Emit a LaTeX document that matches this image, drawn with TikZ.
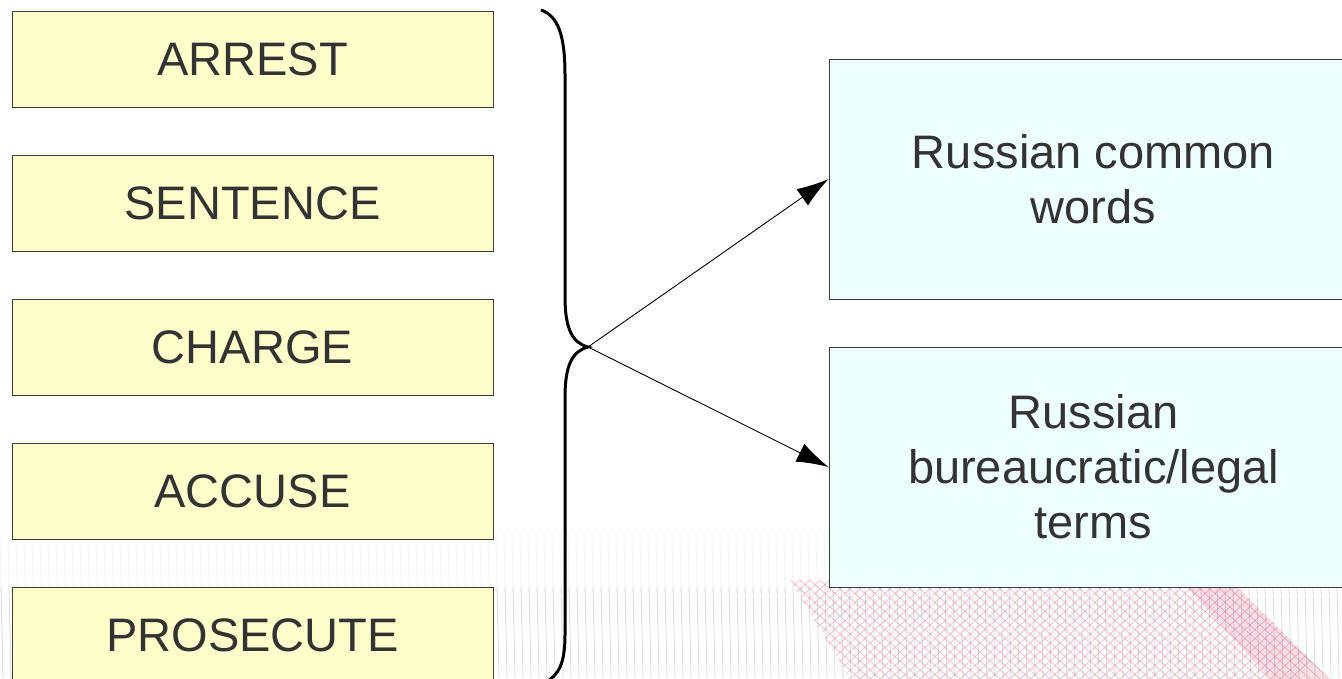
\documentclass[tikz,border=0pt]{standalone}
\usepackage{fontspec}
\setmainfont{Liberation Sans}
\usetikzlibrary{arrows.meta}
\definecolor{boxyellow}{HTML}{FFFFCC}
\definecolor{boxcyan}{HTML}{EEFFFF}
\definecolor{ink}{HTML}{333333}
\definecolor{edgegray}{HTML}{3C3C3C}
\definecolor{stripe}{HTML}{A0A0CC}
\definecolor{mesh}{HTML}{D8607C}
\begin{document}
\begin{tikzpicture}[x=1pt,y=-1pt,
  termbox/.style={draw=edgegray, line width=0.9pt, fill=boxyellow,
    minimum width=481pt, minimum height=96pt, inner sep=0pt, text=ink,
    font=\fontsize{47}{55}\selectfont},
  classbox/.style={draw=edgegray, line width=0.9pt, fill=boxcyan,
    minimum width=529pt, minimum height=240pt, inner sep=0pt, align=center,
    text=ink, font=\fontsize{47}{55}\selectfont},
  link/.style={line width=0.9pt, -{Latex[length=32pt,width=20pt]}}]
\useasboundingbox (0,0) rectangle (1342,679);
\clip (0,0) rectangle (1342,679);

% faint decorative background along the bottom edge
\foreach \i in {0,...,168} {
  \draw[stripe, line width=0.9pt, draw opacity=0.12] ({\i*8},530) -- ({\i*8+1},585);
  \draw[stripe, line width=0.9pt, draw opacity=0.38] ({\i*8+1},585) -- ({\i*8+3},679);
}
\begin{scope}
  \clip (790,580) -- (1230,580) -- (1330,679) -- (850,679) -- cycle;
  \foreach \i in {0,...,70} {
    \draw[mesh, line width=0.9pt, draw opacity=0.35] ({700+\i*10},580) -- ({700+\i*10+110},679);
    \draw[mesh, line width=0.9pt, draw opacity=0.35] ({700+\i*10},580) -- ({700+\i*10-110},679);
  }
  \fill[mesh, opacity=0.2] (1180,580) -- (1230,580) -- (1330,679) -- (1270,679) -- cycle;
\end{scope}

% English terms
\node[termbox] (arrest)    at (252.5,59)  {ARREST};
\node[termbox] (sentence)  at (252.5,203) {SENTENCE};
\node[termbox] (charge)    at (252.5,347) {CHARGE};
\node[termbox] (accuse)    at (252.5,491) {ACCUSE};
\node[termbox] (prosecute) at (252.5,635) {PROSECUTE};

% Russian categories
\node[classbox] (common) at (1093.5,179) {Russian common\\words};
\node[classbox] (legal)  at (1093.5,467) {Russian\\bureaucratic/legal\\terms};

% curly brace grouping the terms
\coordinate (tip) at (588,347);
\draw[line width=3pt] (541,10) .. controls (558,16) and (565,35) .. (565,75)
  -- (565,297) .. controls (565,330) and (573,343) .. (tip)
  .. controls (573,351) and (565,364) .. (565,397)
  -- (565,635) .. controls (565,665) and (558,675) .. (545,683);

% arrows to the categories
\draw[link] (tip) -- (common.west);
\draw[link] (tip) -- (legal.west);
\end{tikzpicture}
\end{document}
